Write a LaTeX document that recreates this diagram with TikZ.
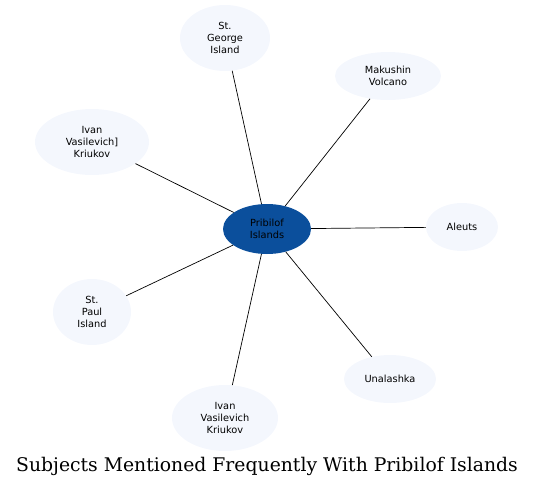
\documentclass[tikz,border=0pt]{standalone}
\usepackage{fontspec}
\setmainfont{DejaVu Serif}
\newfontfamily\nodefont{DejaVu Sans}
\usetikzlibrary{shapes.geometric}
\definecolor{hubblue}{HTML}{0B4F9C}
\definecolor{leafblue}{HTML}{F4F7FD}

\begin{document}
\begin{tikzpicture}[x=1pt, y=-1pt,
  leaf/.style={ellipse, fill=leafblue, inner sep=0pt, align=center, font=\nodefont\fontsize{9.8}{12}\selectfont},
  hub/.style={leaf, fill=hubblue}]
\useasboundingbox (0,0) rectangle (535,488);

\node[hub, minimum width=88, minimum height=50] (pribilof) at (267,229) {Pribilof\\Islands};

\node[leaf, minimum width=90, minimum height=66] (george) at (225,38) {St.\\George\\Island};
\node[leaf, minimum width=106, minimum height=48] (makushin) at (388,76) {Makushin\\Volcano};
\node[leaf, minimum width=114, minimum height=66] (ivanb) at (92,142) {Ivan\\Vasilevich]\\Kriukov};
\node[leaf, minimum width=72, minimum height=48] (aleuts) at (462,227) {Aleuts};
\node[leaf, minimum width=78, minimum height=66] (paul) at (92,312) {St.\\Paul\\Island};
\node[leaf, minimum width=106, minimum height=66] (ivan) at (225,418) {Ivan\\Vasilevich\\Kriukov};
\node[leaf, minimum width=92, minimum height=48] (unalashka) at (390,379) {Unalashka};

\foreach \n in {george, makushin, ivanb, aleuts, paul, ivan, unalashka} {
  \draw[black, line width=0.7] (pribilof) -- (\n);
}

\node[font=\fontsize{18.8}{22}\selectfont] (title) at (267,466) {Subjects Mentioned Frequently With Pribilof Islands};
\end{tikzpicture}
\end{document}
